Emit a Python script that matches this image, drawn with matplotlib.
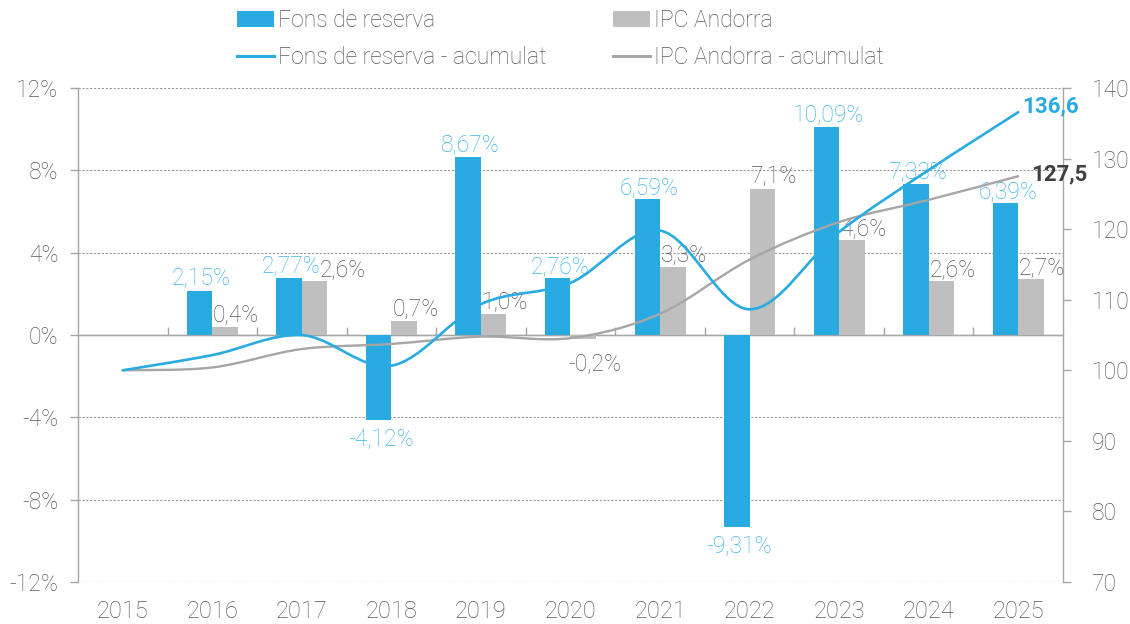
import matplotlib
matplotlib.use("Agg")
import matplotlib.pyplot as plt
import numpy as np
from matplotlib.path import Path
from matplotlib.patches import PathPatch, Patch
from matplotlib.lines import Line2D

plt.rcParams['font.family'] = ['Roboto', 'DejaVu Sans']

# ---------------- data ----------------
years = ['2015', '2016', '2017', '2018', '2019', '2020', '2021', '2022', '2023', '2024', '2025']
fons_pct = [None, 2.15, 2.77, -4.12, 8.67, 2.76, 6.59, -9.31, 10.09, 7.33, 6.39]
ipc_pct = [None, 0.4, 2.6, 0.7, 1.0, -0.2, 3.3, 7.1, 4.6, 2.6, 2.7]
fons_cum = [100.0, 102.15, 104.98, 100.65, 109.37, 112.39, 119.79, 108.64, 119.60, 128.37, 136.57]
ipc_cum = [100.0, 100.40, 103.01, 103.73, 104.77, 104.56, 108.01, 115.68, 121.00, 124.15, 127.50]
left_ticks = [-12, -8, -4, 0, 4, 8, 12]
left_labels = ['-12%', '-8%', '-4%', '0%', '4%', '8%', '12%']
right_ticks = [70, 80, 90, 100, 110, 120, 130, 140]
right_labels = ['70', '80', '90', '100', '110', '120', '130', '140']
legend_labels = ['Fons de reserva', 'Fons de reserva - acumulat', 'IPC Andorra', 'IPC Andorra - acumulat']

BLUE = '#29ABE2'
BLUE_TXT = '#3AB4E6'
GRAY_BAR = '#BFBFBF'
GRAY_LINE = '#A6A6A6'
TXT = '#595959'
AXC = '#A6A6A6'
FS = 16.5

fig = plt.figure(figsize=(11.3, 6.24), dpi=100)
ax = fig.add_axes([0.069, 0.0673, 0.8717, 0.7917])
ax2 = ax.twinx()

x = np.arange(len(years))
w = 0.285

fx = [i for i, v in enumerate(fons_pct) if v is not None]
fv = [fons_pct[i] for i in fx]
ix = [i for i, v in enumerate(ipc_pct) if v is not None]
iv = [ipc_pct[i] for i in ix]

ax.bar(np.array(fx) - w / 2, fv, width=w, color=BLUE, zorder=3)
ax.bar(np.array(ix) + w / 2, iv, width=w, color=GRAY_BAR, zorder=3)

ax.set_xlim(-0.5, len(years) - 0.5)
ax.set_ylim(-12, 12)
ax.set_yticks(left_ticks)
ax.set_yticklabels(left_labels)
ax.set_xticks(x)
ax.set_xticklabels(years)

# gridlines (dashed) except zero, which is a solid axis line
for t in left_ticks:
    if t == 0:
        ax.axhline(t, color=AXC, linewidth=1.0, zorder=2.5)
    else:
        ax.axhline(t, color='#9A9A9A', linestyle=(0, (2, 1.5)), linewidth=0.8, zorder=1)

for s in ['top', 'bottom', 'right']:
    ax.spines[s].set_visible(False)
ax.spines['left'].set_color(AXC)
ax.spines['left'].set_linewidth(1.0)
ax.tick_params(axis='y', direction='out', length=5.5, width=1, color=AXC,
               labelsize=FS, labelcolor=TXT, pad=8.5)
ax.tick_params(axis='x', length=0, labelsize=17, labelcolor=TXT, pad=13)
for lab in ax.get_xticklabels() + ax.get_yticklabels():
    lab.set_fontweight('light')

# category-boundary ticks on the zero line
sec = ax.secondary_xaxis(0.5)
sec.set_xticks(np.arange(len(years) - 1) + 0.5)
sec.set_xticklabels([])
sec.tick_params(axis='x', direction='out', length=5.5, width=1, color=AXC)
sec.spines['bottom'].set_visible(False)

# right axis
ax2.set_ylim(70, 140)
ax2.set_yticks(right_ticks)
ax2.set_yticklabels(right_labels)
for s in ['top', 'bottom', 'left']:
    ax2.spines[s].set_visible(False)
ax2.spines['right'].set_color(AXC)
ax2.spines['right'].set_linewidth(1.0)
ax2.tick_params(axis='y', direction='out', length=5.5, width=1, color=AXC,
                labelsize=FS, labelcolor=TXT, pad=15)
for lab in ax2.get_yticklabels():
    lab.set_fontweight('light')


def smooth_path(xs, ys):
    pts = np.column_stack([xs, ys]).astype(float)
    n = len(pts)
    verts = [pts[0]]
    codes = [Path.MOVETO]
    for i in range(n - 1):
        p0 = pts[i - 1] if i > 0 else pts[i]
        p1 = pts[i]
        p2 = pts[i + 1]
        p3 = pts[i + 2] if i + 2 < n else pts[i + 1]
        c1 = p1 + (p2 - p0) / 6.0
        c2 = p2 - (p3 - p1) / 6.0
        verts += [c1, c2, p2]
        codes += [Path.CURVE4] * 3
    return Path(verts, codes)


ax2.add_patch(PathPatch(smooth_path(x, ipc_cum), facecolor='none', edgecolor=GRAY_LINE,
                        linewidth=1.7, zorder=4, capstyle='round'))
ax2.add_patch(PathPatch(smooth_path(x, fons_cum), facecolor='none', edgecolor=BLUE,
                        linewidth=1.9, zorder=5, capstyle='round'))

# data labels
nudge_ipc = {2: 12}
for i, v in zip(fx, fv):
    s = f"{v:.2f}".replace('.', ',') + '%'
    if v >= 0:
        ax.annotate(s, (i - w / 2, v), xytext=(1.5, 4), textcoords='offset points',
                    ha='center', va='baseline', fontsize=FS, color=BLUE_TXT,
                    fontweight='light', zorder=6)
    else:
        ax.annotate(s, (i - w / 2, v), xytext=(1.5, -6), textcoords='offset points',
                    ha='center', va='top', fontsize=FS, color=BLUE_TXT,
                    fontweight='light', zorder=6)
for i, v in zip(ix, iv):
    s = f"{v:.1f}".replace('.', ',') + '%'
    dx = 8 + nudge_ipc.get(i, 0)
    if v >= 0:
        ax.annotate(s, (i + w / 2, v), xytext=(dx, 4), textcoords='offset points',
                    ha='center', va='baseline', fontsize=FS, color=TXT,
                    fontweight='light', zorder=6)
    else:
        ax.annotate(s, (i + w / 2, v), xytext=(dx, -9), textcoords='offset points',
                    ha='center', va='top', fontsize=FS, color=TXT,
                    fontweight='light', zorder=6)

# end labels
ax2.annotate(f"{fons_cum[-1]:.1f}".replace('.', ','), (x[-1], fons_cum[-1]),
             xytext=(3, 4), textcoords='offset points', ha='left', va='center',
             fontsize=16, fontweight='bold', color=BLUE, annotation_clip=False, zorder=7)
ax2.annotate(f"{ipc_cum[-1]:.1f}".replace('.', ','), (x[-1], ipc_cum[-1]),
             xytext=(9, 1), textcoords='offset points', ha='left', va='center',
             fontsize=16, fontweight='bold', color='#404040', annotation_clip=False, zorder=7)

# legend
handles = [Patch(facecolor=BLUE, edgecolor='none'),
           Line2D([0], [0], color=BLUE, linewidth=2.2),
           Patch(facecolor=GRAY_BAR, edgecolor='none'),
           Line2D([0], [0], color=GRAY_LINE, linewidth=2.2)]
leg = fig.legend(handles, legend_labels, loc='upper center', bbox_to_anchor=(0.496, 1.0),
                 ncol=2, frameon=False, fontsize=FS, handlelength=1.6, handleheight=0.7,
                 handletextpad=0.18, columnspacing=2.9, labelspacing=0.62, borderaxespad=0.0)
for t in leg.get_texts():
    t.set_color(TXT)
    t.set_fontweight('light')

fig.savefig('out.png', dpi=100)
